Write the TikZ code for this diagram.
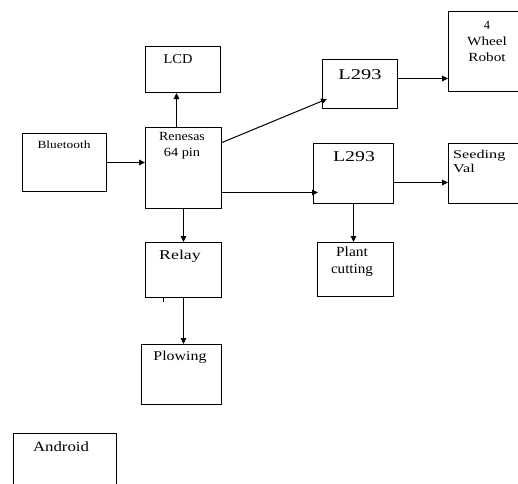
\documentclass[tikz,border=0pt]{standalone}
\usepackage{fontspec}
\usepackage{graphicx}
\setmainfont{Liberation Serif}
\usetikzlibrary{arrows.meta}
\newcommand{\wsc}[2]{\scalebox{#1}[1]{#2}}
\begin{document}
\begin{tikzpicture}[x=1pt,y=-1pt,
  box/.style={draw, line width=1pt, inner sep=0pt, anchor=north west},
  arr/.style={draw, line width=1pt, -{Triangle[length=6pt,width=5.5pt]}},
  txt/.style={inner sep=0pt, font=\fontsize{13.5}{14}\selectfont, align=center}]
\clip (0,0) rectangle (518,483);
% boxes
\node[box, minimum width=75, minimum height=46] (lcd) at (145,46) {};
\node[box, minimum width=84, minimum height=58] (bt) at (22,133) {};
\node[box, minimum width=76, minimum height=81] (ren) at (145,127) {};
\node[box, minimum width=75, minimum height=49] (l1) at (322,59) {};
\node[box, minimum width=80, minimum height=80] (robot) at (448,11) {};
\node[box, minimum width=80, minimum height=60] (l2) at (313,143) {};
\node[box, minimum width=80, minimum height=60] (seed) at (448,143) {};
\node[box, minimum width=76, minimum height=54] (plant) at (317,242) {};
\node[box, minimum width=76, minimum height=55] (relay) at (145,242) {};
\node[box, minimum width=80, minimum height=60] (plow) at (141,344) {};
\node[box, minimum width=103, minimum height=70] (android) at (13,433) {};
% texts
\node[txt] (tlcd) at (178,59) {\wsc{1.07}{LCD}};
\node[txt, font=\fontsize{11}{12}\selectfont] (tbt) at (64,145) {\wsc{1.22}{Bluetooth}};
\node[txt, font=\fontsize{12.5}{16}\selectfont] (tren) at (182,146) {\wsc{1.12}{Renesas}\\\wsc{1.15}{64 pin}};
\node[txt, font=\fontsize{15}{16}\selectfont] (tl1) at (360,75) {\wsc{1.36}{L293}};
\node[txt, font=\fontsize{12.5}{16}\selectfont] (trobot) at (487,41) {4\\\wsc{1.22}{Wheel}\\\wsc{1.22}{Robot}};
\node[txt, font=\fontsize{15}{16}\selectfont] (tl2) at (354,157) {\wsc{1.32}{L293}};
\node[txt, font=\fontsize{12}{14}\selectfont, align=left, anchor=west] (tseed) at (453,161) {\wsc{1.35}{Seeding}\\\wsc{1.35}{Val}};
\node[txt, font=\fontsize{14}{17}\selectfont] (tplant) at (352,262) {\wsc{1.1}{Plant}\\\wsc{1.08}{cutting}};
\node[txt] (trelay) at (180,256) {\wsc{1.32}{Relay}};
\node[txt] (tplow) at (180,357) {\wsc{1.18}{Plowing}};
\node[txt, font=\fontsize{14}{15}\selectfont] (tandroid) at (61,447) {\wsc{1.2}{Android}};
% helper coordinates
\coordinate (r1) at ([yshift=25.5pt]ren.east);
\coordinate (l1in) at ([xshift=5pt,yshift=10pt]l1.south west);
\coordinate (r2) at ([yshift=-24.5pt]ren.east);
\coordinate (l2in) at ([xshift=5pt]l2.west);
\coordinate (lcdsrc) at ([xshift=-7pt]ren.north);
\coordinate (l1out) at ([yshift=5.5pt]l1.east);
\coordinate (l2out) at ([yshift=-9pt]l2.east);
% connectors
\draw[arr] (bt.east) -- (ren.west |- bt.east);
\draw[arr] (lcdsrc) -- (lcdsrc |- lcd.south);
\draw[arr] (r1) -- (l1in);
\draw[arr] (r2) -- (l2in |- r2);
\draw[arr] (l1out) -- (robot.west |- l1out);
\draw[arr] (l2out) -- (seed.west |- l2out);
\draw[arr] (l2.south) -- (plant.north -| l2.south);
\draw[arr] (ren.south) -- (relay.north -| ren.south);
\draw[arr] (relay.south) -- (plow.north -| relay.south);
\coordinate (tick) at (163,298);
\draw[line width=0.6pt] (tick) -- ++(0,4);
\end{tikzpicture}
\end{document}
